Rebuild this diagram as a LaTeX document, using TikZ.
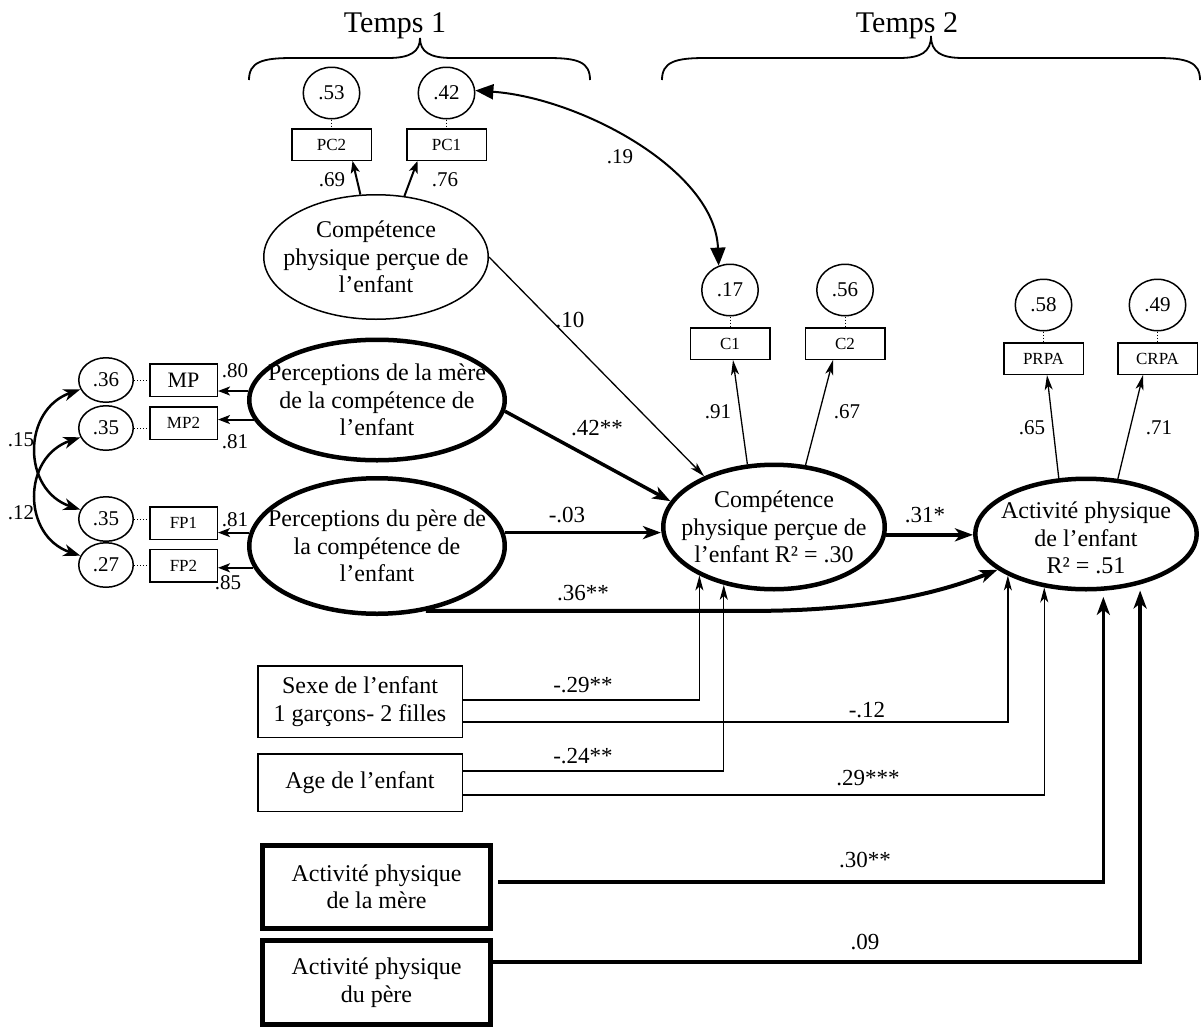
\documentclass[tikz,border=0pt]{standalone}
\usepackage{fontspec}
\setmainfont{Liberation Serif}
\usetikzlibrary{shapes.geometric,arrows.meta,calc}
\begin{document}
\begin{tikzpicture}[x=1pt,y=-1pt,
  fbig/.style={font=\fontsize{24}{27.5}\selectfont},
  coef/.style={font=\fontsize{21}{24}\selectfont, inner sep=0pt},
  coefb/.style={font=\fontsize{23}{26}\selectfont, inner sep=0pt},
  errc/.style={draw, line width=1.5pt, ellipse, minimum width=56.5pt, minimum height=51.5pt, inner sep=0pt, font=\fontsize{21}{24}\selectfont},
  errl/.style={errc, minimum width=54.5pt, minimum height=44.5pt},
  ind/.style={draw, line width=1.5pt, minimum width=79.5pt, minimum height=31.5pt, inner sep=0pt, font=\fontsize{17}{20}\selectfont},
  indl/.style={ind, minimum width=67.5pt, minimum height=32.5pt},
  lat/.style={draw, ellipse, inner sep=0pt},
  thinlat/.style={lat, line width=1.5pt},
  thicklat/.style={lat, line width=4.5pt},
  obsbox/.style={draw, line width=1.5pt, align=center, fbig, inner sep=0pt},
  thickbox/.style={draw, line width=5pt, align=center, fbig, inner sep=0pt},
  arrthin/.style={line width=1.3pt, -{Stealth[length=15pt,width=8pt,inset=4pt]}},
  arrthick/.style={line width=3.5pt, -{Stealth[length=18pt,width=13pt,inset=5pt]}},
  arrmid/.style={line width=2pt, -{Stealth[length=12pt,width=9pt,inset=3pt]}},
  dblcurve/.style={line width=2.5pt, {Stealth[length=17pt,width=12pt,inset=5pt]}-{Stealth[length=17pt,width=12pt,inset=5pt]}},
  dots/.style={dotted, line width=1pt},
  bracestyle/.style={line width=1.8pt},
  lbl/.style={fbig, align=center}
]
\useasboundingbox (0,0) rectangle (1203,1028);

% Time headings and braces
\node[font=\fontsize{30}{34}\selectfont, anchor=base] (t1) at (395,32) {Temps 1};
\node[font=\fontsize{30}{34}\selectfont, anchor=base] (t2) at (907,32) {Temps 2};
\draw[bracestyle] (249,80) .. controls (249,62) and (262,58) .. (292,58) -- (388,58)
  .. controls (410,58) and (420,52) .. (420,38)
  .. controls (420,52) and (430,58) .. (452,58) -- (548,58)
  .. controls (578,58) and (590,62) .. (590,80);
\draw[bracestyle] (662,80) .. controls (662,62) and (675,58) .. (705,58) -- (899,58)
  .. controls (921,58) and (931,52) .. (931,36)
  .. controls (931,52) and (941,58) .. (963,58) -- (1157,58)
  .. controls (1187,58) and (1200,62) .. (1200,80);

% Latent variables
\node[thinlat, minimum width=224.5pt, minimum height=124.5pt,
  label={[lbl]center:{Compétence\\physique perçue de\\l’enfant}}] (tp) at (376,257) {};
\node[thicklat, minimum width=255.5pt, minimum height=120.5pt,
  label={[lbl]center:{Perceptions de la mère\\de la compétence de\\l’enfant}}] (mo) at (377,400) {};
\node[thicklat, minimum width=255.5pt, minimum height=135.5pt,
  label={[lbl]center:{Perceptions du père de\\la compétence de\\l’enfant}}] (fa) at (377,546) {};
\node[thicklat, minimum width=221.5pt, minimum height=124.5pt,
  label={[lbl]center:{Compétence\\physique perçue de\\l’enfant R² = .30}}] (ce) at (774,527) {};
\node[thicklat, minimum width=221.5pt, minimum height=110.5pt,
  label={[lbl, yshift=-4pt]center:{Activité physique\\de l’enfant\\R² = .51}}] (act) at (1086,534) {};

% Top indicators
\node[errc] (e53) at (331.5,93) {.53};
\node[errc] (e42) at (446.5,93) {.42};
\node[ind] (pc2) at (331.5,144.5) {PC2};
\node[ind] (pc1) at (446.5,144.5) {PC1};
\draw[dots] (e53.south) -- (pc2.north);
\draw[dots] (e42.south) -- (pc1.north);
\draw[arrmid] (tp.104) -- ([xshift=21pt]pc2.south);
\draw[arrmid] (tp.65) -- ([xshift=-29pt]pc1.south);
\node[coef] (l69) at (332,180) {.69};
\node[coef] (l76) at (445,180) {.76};

% Time 2 competence indicators
\node[errc] (e17) at (730,290) {.17};
\node[errc] (e56) at (845,290) {.56};
\node[ind] (c1) at (730,343.5) {C1};
\node[ind] (c2) at (845,343.5) {C2};
\draw[dots] (e17.south) -- (c1.north);
\draw[dots] (e56.south) -- (c2.north);
\draw[arrthin] (ce.113) -- ([xshift=3pt]c1.south);
\draw[arrthin] (ce.63) -- ([xshift=-12pt]c2.south);
\node[coef] (l91) at (718,412) {.91};
\node[coef] (l67) at (847,412) {.67};

% Activity indicators
\node[errc] (e58) at (1043.5,305) {.58};
\node[errc] (e49) at (1157.5,305) {.49};
\node[ind] (prpa) at (1043.5,358.5) {PRPA};
\node[ind] (crpa) at (1157.5,358.5) {CRPA};
\draw[dots] (e58.south) -- (prpa.north);
\draw[dots] (e49.south) -- (crpa.north);
\draw[arrthin] (act.116) -- ([xshift=3.5pt]prpa.south);
\draw[arrthin] (act.60) -- ([xshift=-14.5pt]crpa.south);
\node[coef] (l65) at (1032,428) {.65};
\node[coef] (l71) at (1159,428) {.71};

% Covariance .19
\draw[line width=2pt, {Triangle[length=18pt,width=15pt]}-{Triangle[length=18pt,width=15pt]}]
  (e42.5) .. controls (580,98) and (715,170) .. (e17.115);
\node[coef] (l19) at (620,157) {.19};

% Left indicators
\node[errl] (c36) at (106,380) {.36};
\node[errl] (c35a) at (106,428) {.35};
\node[errl] (c35b) at (106,519) {.35};
\node[errl] (c27) at (106,565) {.27};
\node[indl] (mp) at (183.5,380) {\fontsize{22}{24}\selectfont MP};
\node[indl] (mp2) at (183.5,423) {MP2};
\node[indl] (fp1) at (183.5,523) {FP1};
\node[indl] (fp2) at (183.5,565.5) {FP2};
\draw[dots] (c36.east) -- (c36.east -| mp.west);
\draw[dots] (c35a.east) -- (c35a.east -| mp2.west);
\draw[dots] (c35b.east) -- (c35b.east -| fp1.west);
\draw[dots] (c27.east) -- (c27.east -| fp2.west);
\draw[arrmid] (mo.176) -- (mo.176 -| mp.east);
\draw[arrmid] (mo.189) -- (mo.189 -| mp2.east);
\draw[arrmid] (fa.174) -- (fa.174 -| fp1.east);
\draw[arrmid] (fa.190) -- (fa.190 -| fp2.east);
\node[coef] (l80) at (235,371) {.80};
\node[coef] (l81a) at (235,442) {.81};
\node[coef] (l81b) at (235,520) {.81};
\node[coef] (l85) at (228,583) {.85};
\draw[dblcurve] (c36.200) .. controls (22,410) and (22,490) .. (c35b.160);
\draw[dblcurve] (c35a.200) .. controls (22,457) and (22,536) .. (c27.160);
\node[coef] (l15) at (21,440) {.15};
\node[coef] (l12) at (21,513) {.12};

% Structural paths
\draw[arrthin] (tp.east) -- (ce.144);
\node[coefb] (l10) at (570,320) {.10};
\draw[arrthick] (mo.355) -- (ce.166);
\node[coefb] (l42) at (597,428) {.42**};
\draw[arrthick] (fa.6) -- (fa.6 -| ce.west);
\node[coefb] (l03) at (567,515) {-.03};
\draw[arrthick] (ce.356) -- (ce.356 -| act.west);
\node[coefb] (l31) at (925,515) {.31*};
\draw[line width=4pt, -{Stealth[length=18pt,width=13pt,inset=5pt]}]
  (fa.307) -- ++(330,0) .. controls +(120,0) and +(-50,20) .. (act.202);
\node[coefb] (l36) at (583,593) {.36**};

% Covariates
\node[obsbox, minimum width=204.5pt, minimum height=71.5pt] (sx) at (360,701.5) {Sexe de l’enfant\\1 garçons- 2 filles};
\node[obsbox, minimum width=204.5pt, minimum height=57.5pt] (ag) at (360,782.5) {Age de l’enfant};
\node[thickbox, minimum width=228pt, minimum height=83pt] (am) at (376.5,887) {Activité physique\\de la mère};
\node[thickbox, minimum width=228pt, minimum height=84pt] (ap) at (376.5,982.5) {Activité physique\\du père};

\draw[arrthin] ([yshift=1.5pt]sx.east) -| (ce.213);
\draw[arrthin] ([yshift=-20.5pt]sx.east) -| (act.208);
\draw[arrthin] ([yshift=11.5pt]ag.east) -| (ce.229);
\draw[arrthin] ([yshift=-12.5pt]ag.east) -| (act.232);
\draw[arrthick, shorten >=6pt] ([yshift=5pt,xshift=5pt]am.east) -| (act.287);
\draw[arrthick, shorten >=6pt] ([yshift=20.5pt]ap.east) -| (act.317);
\node[coefb] (l29) at (583,685) {-.29**};
\node[coefb] (l12b) at (867,710) {-.12};
\node[coefb] (l24) at (583,756) {-.24**};
\node[coefb] (l29b) at (868,778) {.29***};
\node[coefb] (l30) at (865,860) {.30**};
\node[coefb] (l09) at (865,942) {.09};
\end{tikzpicture}
\end{document}
